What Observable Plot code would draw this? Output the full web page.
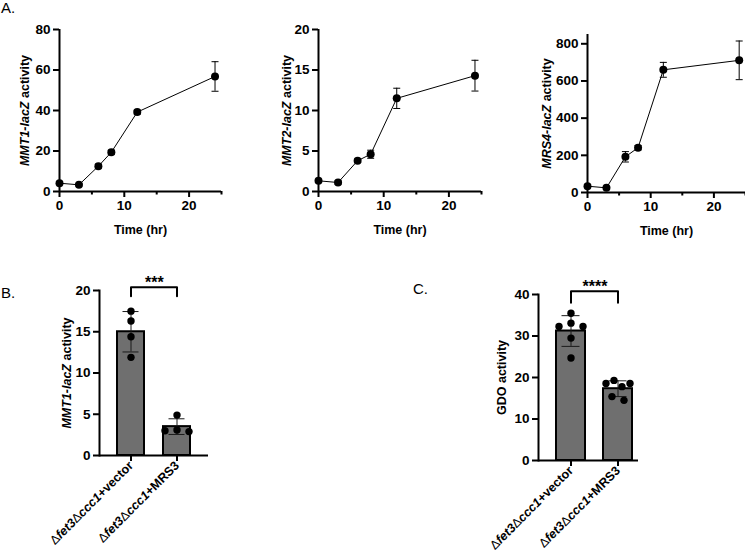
<!DOCTYPE html>
<html><head><meta charset="utf-8">
<script src="https://cdn.jsdelivr.net/npm/d3@7"></script>
<script src="https://cdn.jsdelivr.net/npm/@observablehq/plot@0.6"></script>
<style>
body{margin:0;background:#fff;}
#fig{position:relative;width:745px;height:556px;overflow:hidden;font-family:"Liberation Sans",Arial,sans-serif;}
.panel{position:absolute;}
.letter{position:absolute;font-size:15px;line-height:1;color:#000;}
</style></head><body><div id="fig"></div>
<script>
// ---------- Panel A data ----------
const timeHr = [0, 3, 6, 8, 12, 24];
const mmt1Mean = [4.1, 3.3, 12.5, 19.4, 39.2, 56.8];
const mmt1Sd   = [0.5, 0.5, 1.0, 1.0, 1.0, 7.3];
const mmt2Mean = [1.32, 1.11, 3.8, 4.6, 11.5, 14.3];
const mmt2Sd   = [0.2, 0.2, 0.2, 0.5, 1.25, 1.9];
const mrs4Mean = [34, 25, 192, 241, 660, 711];
const mrs4Sd   = [8, 5, 28, 12, 40, 104];
const xTicksA = [0, 10, 20];
const xMinorA = [5, 15, 25];
const yTicksA1 = [0, 20, 40, 60, 80];
const yTicksA2 = [0, 5, 10, 15, 20];
const yTicksA3 = [0, 200, 400, 600, 800];

// ---------- Panels B & C data (replicates listed left-to-right within a row) ----------
const strains = ["Δfet3Δccc1+vector", "Δfet3Δccc1+MRS3"];
const bVector = [17.5, 16.3, 14.4, 11.9];
const bMRS3   = [4.9, 3.0, 3.1, 2.9];
const bMean = [15.0, 3.5];
const bSd   = [2.45, 0.95];
const bBracket = [19.3, 20.4];
const bStars = "***";
const yTicksB = [0, 5, 10, 15, 20];

const cVector = [35.5, 32.3, 33.1, 32.3, 29.5, 24.7];
const cMRS3   = [18.55, 19.3, 17.8, 18.55, 15.4, 14.5];
const cMean = [31.2, 17.3];
const cSd   = [3.7, 1.9];
const cBracket = [38.0, 40.8];
const cStars = "****";
const yTicksC = [0, 10, 20, 30, 40];

const FONT = '"Liberation Sans", Arial, Helvetica, sans-serif';
const NS = "http://www.w3.org/2000/svg";

// horizontal cap symbol for error bars
const capSymbol = {draw(ctx, size) { const w = Math.sqrt(size / Math.PI); ctx.moveTo(-w, 0); ctx.lineTo(w, 0); }};

function richText(el, parts, fontSize) {
  if (!el) return;
  el.textContent = "";
  if (fontSize) el.setAttribute("font-size", fontSize);
  for (const [s, st] of parts) {
    const t = document.createElementNS(NS, "tspan");
    t.textContent = s;
    if (st === "i") t.setAttribute("font-style", "italic");
    if (st === "n") t.setAttribute("font-weight", "normal");
    el.appendChild(t);
  }
}
function strainParts(s) {
  const suffix = s.replace("Δfet3Δccc1", "");
  return [["Δ", "n"], ["fet3", "i"], ["Δ", "n"], ["ccc1", "i"], [suffix, ""]];
}

function place(node, left, top) {
  const d = document.createElement("div");
  d.className = "panel"; d.style.left = left + "px"; d.style.top = top + "px";
  d.appendChild(node);
  document.getElementById("fig").appendChild(d);
}
function letter(txt, left, top) {
  const d = document.createElement("div");
  d.className = "letter"; d.textContent = txt; d.style.left = left + "px"; d.style.top = top + "px";
  document.getElementById("fig").appendChild(d);
}

const baseStyle = {fontFamily: FONT, fontSize: "12.5px", fontWeight: "bold", color: "black", background: "transparent", overflow: "visible"};
const TICK_FS = 13.5;

function linePanel({mean, sd, yDomain, yTicks, labelParts, labelOffset, width, height, margin}) {
  const rows = timeHr.map((t, i) => ({t, m: mean[i], lo: mean[i] - sd[i], hi: mean[i] + sd[i]}));
  const label = labelParts.map(p => p[0]).join("");
  const svg = Plot.plot({
    width, height, ...margin,
    style: baseStyle,
    x: {domain: [0, 25]},
    y: {domain: yDomain},
    marks: [
      Plot.ruleX(rows, {x: "t", y1: "lo", y2: "hi", strokeWidth: 1}),
      Plot.dot(rows, {x: "t", y: "lo", symbol: capSymbol, r: 3.5, fill: "none", stroke: "black", strokeWidth: 1}),
      Plot.dot(rows, {x: "t", y: "hi", symbol: capSymbol, r: 3.5, fill: "none", stroke: "black", strokeWidth: 1}),
      Plot.line(rows, {x: "t", y: "m", strokeWidth: 1}),
      Plot.dot(rows, {x: "t", y: "m", r: 4, fill: "black"}),
      Plot.ruleX([0], {strokeWidth: 2}),
      Plot.ruleY([0], {strokeWidth: 2}),
      Plot.axisY({ticks: yTicks, tickSize: 6, tickPadding: 3, strokeWidth: 2, fontSize: TICK_FS, label, labelAnchor: "center", labelOffset, labelArrow: "none"}),
      Plot.axisX({ticks: xTicksA, tickSize: 6, tickPadding: 3, strokeWidth: 2, fontSize: TICK_FS, label: "Time (hr)", labelAnchor: "center", labelOffset: 42.5, labelArrow: "none"}),
      Plot.axisX({ticks: xMinorA, tickSize: 3.5, strokeWidth: 2, fill: "none", label: null})
    ]
  });
  richText(svg.querySelector('[aria-label="y-axis label"] text'), labelParts, 12.5);
  const xl = svg.querySelector('[aria-label="x-axis label"] text');
  if (xl) xl.setAttribute("font-size", 12.5);
  return svg;
}

// column-scatter layout: replicates whose dots would overlap vertically share a row
// and are spread symmetrically about the band centre (order = data order)
function columnScatter(options, minGap = 8) {
  return Plot.initializer(options, (data, facets, channels, scales) => {
    const xs = scales.x, ys = scales.y;
    const XV = channels.x.value, YV = channels.y.value;
    const X = new Float64Array(XV.length), Y = new Float64Array(YV.length);
    for (const I of facets) {
      const byGroup = d3.group(I, i => XV[i]);
      for (const [g, idx] of byGroup) {
        const cx = xs(g);
        const py = new Map(idx.map(i => [i, ys(YV[i])]));
        const sorted = [...idx].sort((a, b) => py.get(a) - py.get(b));
        const clusters = [];
        for (const i of sorted) {
          const last = clusters[clusters.length - 1];
          if (last && py.get(i) - py.get(last[last.length - 1]) < minGap) last.push(i);
          else clusters.push([i]);
        }
        for (const c of clusters) {
          const ordered = idx.filter(i => c.includes(i));
          const n = ordered.length;
          const sp = n > 1 ? Math.min(12, 24 / (n - 1)) : 0;
          ordered.forEach((i, j) => { X[i] = cx + (j - (n - 1) / 2) * sp; Y[i] = py.get(i); });
        }
      }
    }
    return {data, facets, channels: {x: {value: X}, y: {value: Y}}};
  });
}

function barPanel({groupsVals, mean, sd, yDomain, yTicks, labelParts, labelOffset, bracket, stars, starsY, starsDx, width, height, margin, xPad}) {
  const summary = strains.map((s, i) => ({s, m: mean[i], lo: mean[i] - sd[i], hi: mean[i] + sd[i]}));
  const pts = strains.flatMap((s, i) => groupsVals[i].map(v => ({s, v})));
  const br = [{s: strains[0], y: bracket[0]}, {s: strains[0], y: bracket[1]}, {s: strains[1], y: bracket[1]}, {s: strains[1], y: bracket[0]}];
  const label = labelParts.map(p => p[0]).join("");
  const svg = Plot.plot({
    width, height, ...margin,
    style: baseStyle,
    x: {domain: strains, ...xPad},
    y: {domain: yDomain},
    marks: [
      Plot.barY(summary, {x: "s", y: "m", fill: "#6f6f6f", stroke: "black", strokeWidth: 2, insetLeft: 1, insetRight: 1}),
      Plot.ruleX(summary, {x: "s", y1: "lo", y2: "hi", stroke: "#1a1a1a", strokeWidth: 1}),
      Plot.tickY(summary, {x: "s", y: "hi", insetLeft: 6.5, insetRight: 6.5, stroke: "#1a1a1a", strokeWidth: 1}),
      Plot.tickY(summary, {x: "s", y: "lo", insetLeft: 6.5, insetRight: 6.5, stroke: "#1a1a1a", strokeWidth: 1}),
      Plot.dot(pts, columnScatter({x: "s", y: "v", r: 3.7, fill: "black"})),
      Plot.ruleY([0], {strokeWidth: 2}),
      Plot.frame({anchor: "left", strokeWidth: 2}),
      Plot.line(br, {x: "s", y: "y", strokeWidth: 2}),
      Plot.text([stars], {x: () => strains[0], y: () => starsY, dx: starsDx, text: d => d, fontSize: 16, fontWeight: "bold"}),
      Plot.axisY({ticks: yTicks, tickSize: 6, tickPadding: 3, strokeWidth: 2, fontSize: TICK_FS, label, labelAnchor: "center", labelOffset, labelArrow: "none"}),
      Plot.axisX({tickRotate: -45, tickSize: 6, tickPadding: 2, strokeWidth: 2, fontSize: 12.5, label: null})
    ]
  });
  richText(svg.querySelector('[aria-label="y-axis label"] text'), labelParts, 12.5);
  svg.querySelectorAll('[aria-label="x-axis tick label"] text').forEach(t => richText(t, strainParts(t.textContent)));
  return svg;
}

// ---------- Panel A ----------
place(linePanel({mean: mmt1Mean, sd: mmt1Sd, yDomain: [0, 80], yTicks: yTicksA1,
  labelParts: [["MMT1-lacZ", "i"], [" activity", ""]], labelOffset: 39,
  width: 250, height: 240, margin: {marginLeft: 59, marginRight: 29, marginTop: 29, marginBottom: 49}}), 0, 0);
place(linePanel({mean: mmt2Mean, sd: mmt2Sd, yDomain: [0, 20], yTicks: yTicksA2,
  labelParts: [["MMT2-lacZ", "i"], [" activity", ""]], labelOffset: 36,
  width: 250, height: 240, margin: {marginLeft: 68, marginRight: 19, marginTop: 29, marginBottom: 49}}), 250, 0);
place(linePanel({mean: mrs4Mean, sd: mrs4Sd, yDomain: [0, 850], yTicks: yTicksA3,
  labelParts: [["MRS4-lacZ", "i"], [" activity", ""]], labelOffset: 45.5,
  width: 255, height: 240, margin: {marginLeft: 97, marginRight: 0, marginTop: 34, marginBottom: 48}}), 490, 0);

// ---------- Panel B ----------
place(barPanel({groupsVals: [bVector, bMRS3], mean: bMean, sd: bSd, yDomain: [0, 20], yTicks: yTicksB,
  labelParts: [["MMT1-lacZ", "i"], [" activity", ""]], labelOffset: 37.5,
  bracket: bBracket, stars: bStars, starsY: 20.9, starsDx: 23.4,
  width: 230, height: 316, margin: {marginLeft: 99, marginRight: 22, marginTop: 50, marginBottom: 101},
  xPad: {paddingInner: 0.374, paddingOuter: 0.353, align: 0.5}}), 0, 240);

// ---------- Panel C ----------
place(barPanel({groupsVals: [cVector, cMRS3], mean: cMean, sd: cSd, yDomain: [0, 40], yTicks: yTicksC,
  labelParts: [["GDO activity", ""]], labelOffset: 41,
  bracket: cBracket, stars: cStars, starsY: 41.95, starsDx: 24,
  width: 300, height: 316, margin: {marginLeft: 168, marginRight: 32, marginTop: 54, marginBottom: 96},
  xPad: {paddingInner: 0.34, paddingOuter: 0.227, align: 0.76}}), 370, 240);

letter("A.", 1, 0);
letter("B.", 1, 285);
letter("C.", 413, 281);
</script></body></html>
